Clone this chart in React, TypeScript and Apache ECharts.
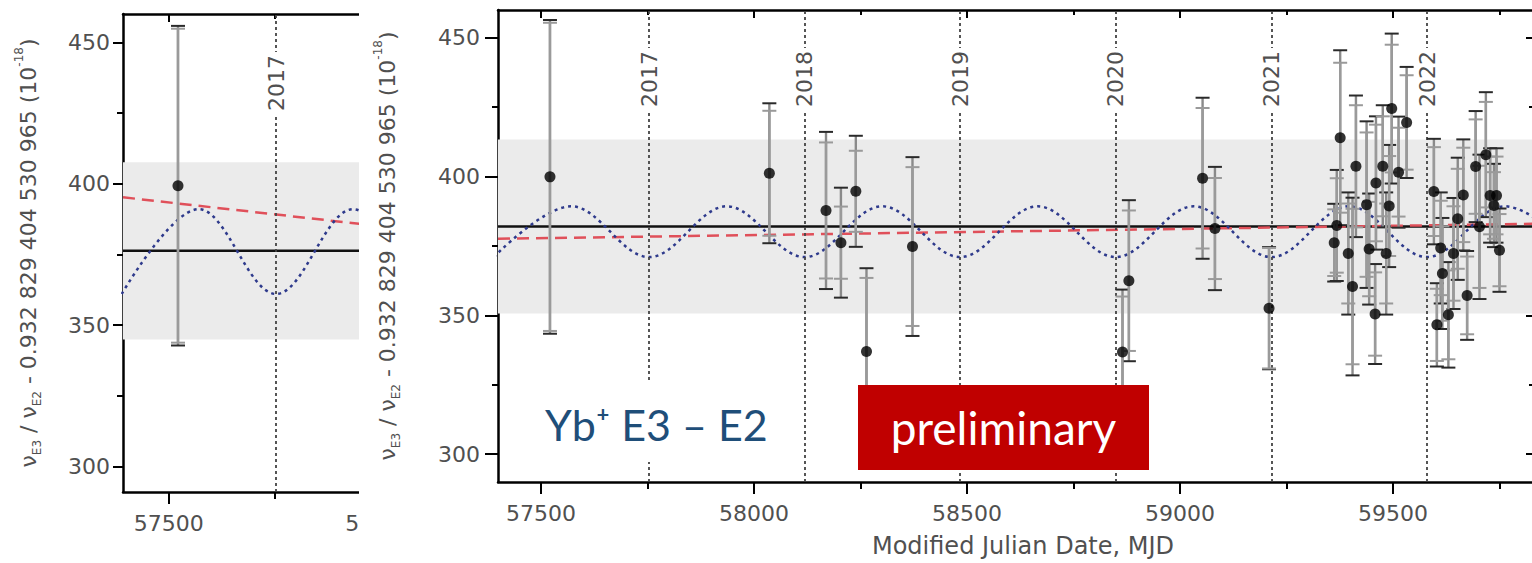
import React, { useEffect, useRef } from "react";
import * as echarts from "echarts";

// ---------- shared ----------
const yearLabels = ["2017", "2018", "2019", "2020", "2021", "2022"];
const yearMjd = [57754, 58119, 58484, 58849, 59215, 59580];
const xMajorTicks = [57500, 58000, 58500, 59000, 59500];
const xMinorTicks = [57750, 58250, 58750, 59250, 59750];
const yMajorTicks = [300, 350, 400, 450];
const yMinorTicks = [325, 375, 425];
const yAxisTitle = "{n|ν}{s|E3}{n| / ν}{s|E2}{n| - 0.932 829 404 530 965 (10}{p|-18}{n|)}";
const xAxisTitle = "Modified Julian Date, MJD";

// ---------- left (inset) panel ----------
const leftXRange = [57392, 58236];
const leftYRange = [291, 460];
const leftMjd = [57522];
const leftValue = [399.3];
const leftErrOuter = [56.5];
const leftErrInner = [55.5];
const leftSineMjd = [57389, 57571, 57754, 57936, 58119, 58301];
const leftSineValue = [361, 391, 361, 391, 361, 391];
const leftMean = 376.3;
const leftBand = [344.9, 407.6];
const leftTrendMjd = [57392, 58236];
const leftTrendValue = [395.2, 381.0];

// ---------- main panel ----------
const mainXRange = [57399, 59831];
const mainYRange = [290, 460];
const mainMjd = [
  57521, 58036, 58169, 58204, 58239, 58264, 58372, 58865, 58880, 59053, 59082, 59209,
  59362, 59368, 59376, 59395, 59405, 59413, 59438, 59444, 59458, 59460, 59476, 59484,
  59491, 59497, 59513, 59532,
  59596, 59603, 59612, 59616, 59630, 59642, 59652, 59665, 59674, 59694, 59703, 59718,
  59728, 59737, 59743, 59750,
];
const mainValue = [
  399.9, 401.2, 387.8, 376.2, 394.7, 337.0, 374.8, 336.8, 362.5, 399.4, 381.3, 352.6,
  376.2, 382.4, 414.0, 372.3, 360.4, 403.7, 389.9, 373.9, 350.5, 397.7, 403.7, 372.3,
  389.4, 424.5, 401.6, 419.5,
  394.6, 346.6, 374.3, 365.1, 350.2, 372.3, 384.8, 393.4, 357.2, 403.6, 381.9, 407.9,
  393.2, 389.6, 393.2, 373.5,
];
const mainErrOuter = [
  56.5, 25.2, 28.3, 19.8, 20.0, 30.0, 32.2, 22.5, 29.0, 29.0, 22.2, 22.0,
  14, 20, 31.5, 22, 32, 25.5, 30, 20, 18, 24, 22, 22,
  22, 27, 20, 20,
  19, 15, 20, 20, 19, 20, 22, 20, 16, 20, 26, 22.5,
  17, 15, 17, 15,
];
const mainErrInner = [
  55.5, 22.5, 24.5, 13.0, 14.6, 26.5, 28.6, 20.0, 25.3, 25.3, 18.2, 21.7,
  12, 17, 27, 18, 28, 22, 26, 17, 15, 21, 18, 18,
  18, 23, 16, 17,
  16, 13, 17, 17, 16, 17, 18, 17, 14, 17, 22, 19,
  14, 12, 14, 13,
];
const mainSineMjd = [57389, 57571, 57754, 57936, 58119, 58301, 58484, 58666, 58849, 59032, 59215, 59397, 59580, 59762, 59945];
const mainSineValue = [371.0, 389.3, 371.0, 389.3, 371.0, 389.3, 371.0, 389.3, 371.0, 389.3, 371.0, 389.3, 371.0, 389.3, 371.0];
const mainMean = 382.0;
const mainBand = [350.7, 413.4];
const mainTrendMjd = [57399, 59831];
const mainTrendValue = [377.6, 383.0];

const FONT = "'DejaVu Sans', sans-serif";
const TXT = "#505050";

function errorRenderer(lineColor: string, lineWidth: number, capColor: string, capHalf: number) {
  return (params: any, api: any) => {
    const x = api.value(0);
    const lo = api.coord([x, api.value(1)]);
    const hi = api.coord([x, api.value(2)]);
    return {
      type: "group",
      children: [
        { type: "line", shape: { x1: lo[0], y1: lo[1], x2: hi[0], y2: hi[1] }, style: { stroke: lineColor, lineWidth } },
        { type: "line", shape: { x1: lo[0] - capHalf, y1: lo[1], x2: lo[0] + capHalf, y2: lo[1] }, style: { stroke: capColor, lineWidth: 2 } },
        { type: "line", shape: { x1: hi[0] - capHalf, y1: hi[1], x2: hi[0] + capHalf, y2: hi[1] }, style: { stroke: capColor, lineWidth: 2 } },
      ],
    };
  };
}

function buildOption(cfg: any) {
  const [x0, x1] = cfg.xRange;
  const [y0, y1] = cfg.yRange;
  const hidden = { show: false };
  const baseX = { type: "value", min: x0, max: x1, splitLine: hidden };
  const baseY = { type: "value", min: y0, max: y1, splitLine: hidden };
  const axisLine = { show: true, onZero: false, lineStyle: { color: "#000", width: 2.5 } };
  const tickStyle = { color: "#000", width: 2 };
  const plain = (v: number) => String(v);
  const years = yearMjd
    .map((m, i) => ({ xAxis: m, name: yearLabels[i] }))
    .filter((d) => d.xAxis > x0 && d.xAxis < cfg.yearMax);

  const xAxis: any[] = [
    {
      ...baseX, position: "bottom", axisLine,
      axisTick: { show: true, customValues: xMajorTicks, length: 12, lineStyle: tickStyle },
      axisLabel: { customValues: xMajorTicks, formatter: plain, color: TXT, fontFamily: FONT, fontSize: 22, margin: 20 },
      name: cfg.xName || "", nameLocation: "middle", nameGap: 52,
      nameTextStyle: { color: TXT, fontFamily: FONT, fontSize: 24, padding: [0, 0, 0, 14] },
    },
    { ...baseX, position: "bottom", axisLine: hidden, axisTick: { show: true, customValues: xMinorTicks, length: 7, lineStyle: tickStyle }, axisLabel: hidden },
    { ...baseX, position: "top", axisLine, axisTick: { show: true, inside: true, customValues: xMajorTicks, length: 8, lineStyle: tickStyle }, axisLabel: hidden },
    { ...baseX, position: "top", axisLine: hidden, axisTick: { show: true, inside: true, customValues: xMinorTicks, length: 5, lineStyle: tickStyle }, axisLabel: hidden },
  ];
  const yAxis: any[] = [
    {
      ...baseY, position: "left", axisLine,
      axisTick: { show: true, customValues: yMajorTicks, length: cfg.yTickLen, lineStyle: tickStyle },
      axisLabel: { customValues: yMajorTicks, formatter: plain, color: TXT, fontFamily: FONT, fontSize: 22, margin: cfg.yLabelMargin },
      name: yAxisTitle, nameLocation: "middle", nameGap: cfg.yNameGap, nameRotate: 90,
      nameTextStyle: {
        color: TXT, fontFamily: FONT, fontSize: 22,
        rich: {
          n: { color: TXT, fontFamily: FONT, fontSize: 22, lineHeight: 30, verticalAlign: "middle" },
          s: { color: TXT, fontFamily: FONT, fontSize: 12, lineHeight: 30, verticalAlign: "bottom" },
          p: { color: TXT, fontFamily: FONT, fontSize: 12, lineHeight: 30, verticalAlign: "top" },
        },
      },
    },
    { ...baseY, position: "left", axisLine: hidden, axisTick: { show: true, customValues: yMinorTicks, length: 6, lineStyle: tickStyle }, axisLabel: hidden },
  ];
  if (cfg.rightAxis) {
    yAxis.push(
      { ...baseY, position: "right", axisLine, axisTick: { show: true, inside: true, customValues: yMajorTicks, length: 8, lineStyle: tickStyle }, axisLabel: hidden },
      { ...baseY, position: "right", axisLine: hidden, axisTick: { show: true, inside: true, customValues: yMinorTicks, length: 5, lineStyle: tickStyle }, axisLabel: hidden },
    );
  }

  const errOuter = cfg.mjd.map((m: number, i: number) => [m, cfg.value[i] - cfg.errOuter[i], cfg.value[i] + cfg.errOuter[i]]);
  const errInner = cfg.mjd.map((m: number, i: number) => [m, cfg.value[i] - cfg.errInner[i], cfg.value[i] + cfg.errInner[i]]);

  return {
    animation: false,
    backgroundColor: "transparent",
    grid: cfg.grid,
    xAxis,
    yAxis,
    series: [
      {
        type: "line", data: [], z: 1, silent: true,
        markArea: { silent: true, itemStyle: { color: "#ebebeb" }, data: [[{ xAxis: x0, yAxis: cfg.band[0] }, { xAxis: x1, yAxis: cfg.band[1] }]] },
      },
      {
        type: "line", data: [], z: 2, silent: true,
        markLine: {
          silent: true, symbol: ["none", "none"],
          lineStyle: { color: "#444", width: 1.8, type: [3, 3] },
          label: {
            show: true, formatter: "{b}", position: "insideEnd", distance: 38,
            color: TXT, fontFamily: FONT, fontSize: 22, backgroundColor: "#fff", padding: [0, 3],
          },
          data: years,
        },
      },
      {
        type: "line", z: 3, symbol: "none", silent: true,
        data: [[x0, cfg.mean], [x1, cfg.mean]],
        lineStyle: { color: "#111", width: 2.5 },
      },
      {
        type: "line", z: 4, symbol: "none", silent: true,
        data: cfg.trendMjd.map((m: number, i: number) => [m, cfg.trendValue[i]]),
        lineStyle: { color: "#e0505a", width: 2.5, type: [12, 7] },
      },
      {
        type: "line", z: 4, symbol: "none", silent: true, smooth: 0.36,
        data: cfg.sineMjd.map((m: number, i: number) => [m, cfg.sineValue[i]]),
        lineStyle: { color: "#2e3a8c", width: 2.5, type: [3, 4] },
      },
      {
        type: "custom", z: 5, silent: true, clip: true,
        renderItem: errorRenderer("#8a8a8a", 2.4, "#2a2a2a", 7),
        encode: { x: 0, y: [1, 2] }, data: errOuter,
      },
      {
        type: "custom", z: 6, silent: true, clip: true,
        renderItem: errorRenderer("#9a9a9a", 2.4, "#9a9a9a", 7),
        encode: { x: 0, y: [1, 2] }, data: errInner,
      },
      {
        type: "scatter", z: 7, silent: true, symbolSize: 11,
        itemStyle: { color: "#000" },
        data: cfg.mjd.map((m: number, i: number) => [m, cfg.value[i]]),
      },
    ],
    graphic: cfg.graphic || [],
  };
}

export default function App() {
  const leftRef = useRef<HTMLDivElement>(null);
  const mainRef = useRef<HTMLDivElement>(null);

  useEffect(() => {
    const c1 = echarts.init(leftRef.current!, null, { renderer: "svg" });
    const c2 = echarts.init(mainRef.current!, null, { renderer: "svg" });
    c1.setOption(
      buildOption({
        xRange: leftXRange, yRange: leftYRange, yearMax: 57960,
        grid: { left: 123, top: 14, right: 20, bottom: 71 },
        yTickLen: 10, yLabelMargin: 13, yNameGap: 80, rightAxis: false,
        mjd: leftMjd, value: leftValue, errOuter: leftErrOuter, errInner: leftErrInner,
        sineMjd: leftSineMjd, sineValue: leftSineValue, mean: leftMean, band: leftBand,
        trendMjd: leftTrendMjd, trendValue: leftTrendValue,
      })
    );
    c2.setOption(
      buildOption({
        xRange: mainXRange, yRange: mainYRange, yearMax: 99999, xName: xAxisTitle,
        grid: { left: 498, top: 10, right: 11, bottom: 78 },
        yTickLen: 13, yLabelMargin: 18, yNameGap: 96, rightAxis: true,
        mjd: mainMjd, value: mainValue, errOuter: mainErrOuter, errInner: mainErrInner,
        sineMjd: mainSineMjd, sineValue: mainSineValue, mean: mainMean, band: mainBand,
        trendMjd: mainTrendMjd, trendValue: mainTrendValue,
        graphic: [
          { type: "rect", z: 100, shape: { x: 530, y: 382, width: 245, height: 80 }, style: { fill: "#fff" } },
          { type: "text", z: 101, x: 545, y: 424, style: { text: "Yb⁺ E3 – E2", fill: "#1f4e79", fontSize: 43, fontFamily: "Lato, 'DejaVu Sans', sans-serif", verticalAlign: "middle" } },
          { type: "rect", z: 100, shape: { x: 858, y: 385, width: 291, height: 85 }, style: { fill: "#c00000" } },
          { type: "text", z: 101, x: 1003.5, y: 427, style: { text: "preliminary", fill: "#fff", fontSize: 46, fontFamily: "Lato, 'DejaVu Sans', sans-serif", align: "center", verticalAlign: "middle" } },
        ],
      })
    );
    return () => {
      c1.dispose();
      c2.dispose();
    };
  }, []);

  return (
    <div style={{ position: "fixed", left: 0, top: 0, width: 1532, height: 563, overflow: "hidden", background: "#fff" }}>
      <div style={{ position: "absolute", left: 0, top: 0, width: 359, height: 563, overflow: "hidden" }}>
        <div ref={leftRef} style={{ width: 500, height: 563 }} />
      </div>
      <div ref={mainRef} style={{ position: "absolute", left: 0, top: 0, width: 1545, height: 563 }} />
    </div>
  );
}
